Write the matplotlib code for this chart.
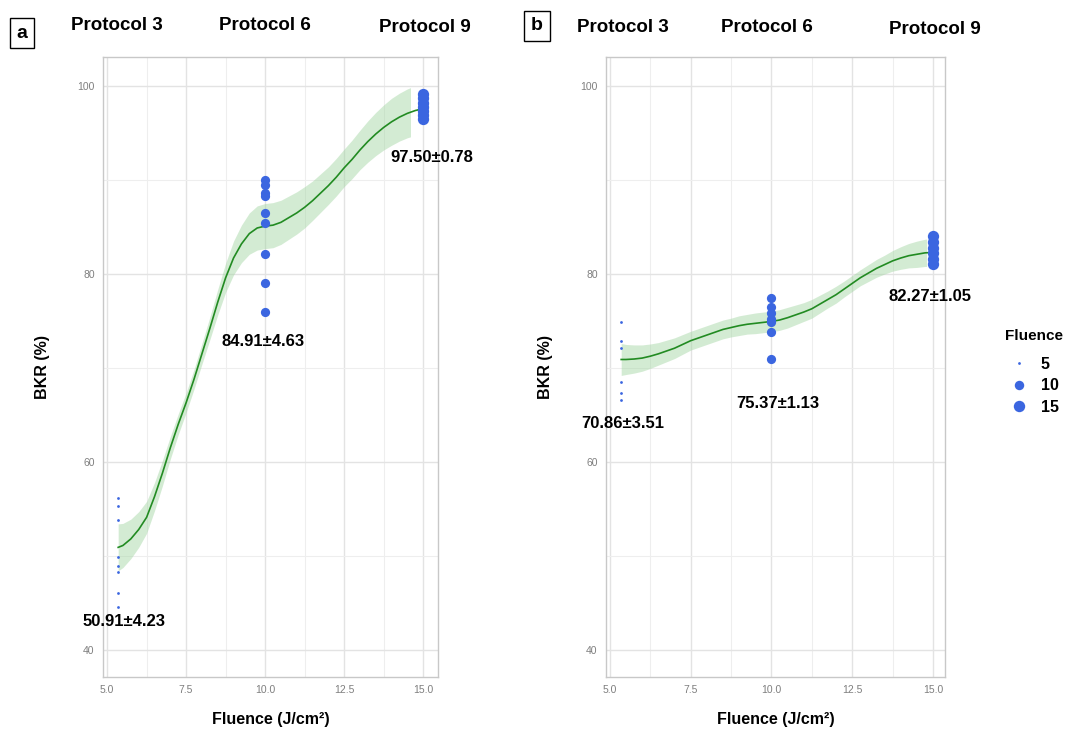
import numpy as np
import matplotlib.pyplot as plt
from matplotlib.lines import Line2D

plt.rcParams['font.family'] = ['Liberation Sans', 'DejaVu Sans']

# 数据
x_pos = [5.35, 10.0, 15.0]
fluence = [5, 10, 15]

# 面板 a 的点
a_f5 = [56.2, 55.3, 53.8, 49.9, 48.9, 48.3, 46.0, 44.5]
a_f10 = [90.0, 89.5, 88.6, 88.3, 86.5, 85.4, 82.1, 79.0, 76.0]
a_f15 = [99.2, 98.7, 98.2, 97.8, 97.3, 96.9, 96.5]

# 面板 b 的点
b_f5 = [74.9, 72.9, 72.1, 68.5, 67.3, 66.6]
b_f10 = [77.4, 76.5, 75.9, 75.2, 74.9, 73.8, 71.0]
b_f15 = [84.0, 83.4, 82.8, 82.2, 81.6, 81.1]

# 平滑曲线 (loess) 与置信带半宽
a_cx = [5.35, 5.5, 5.75, 6.0, 6.25, 6.5, 6.75, 7.0, 7.25, 7.5, 7.75, 8.0, 8.25, 8.5, 8.75,
        9.0, 9.25, 9.5, 9.75, 10.0, 10.25, 10.5, 10.75, 11.0, 11.25, 11.5, 11.75, 12.0,
        12.25, 12.5, 12.75, 13.0, 13.25, 13.5, 13.75, 14.0, 14.25, 14.5, 14.75, 15.0]
a_cy = [50.9, 51.1, 51.8, 52.8, 54.1, 56.3, 58.8, 61.5, 64.0, 66.3, 68.8, 71.5, 74.2, 77.0, 79.6,
        81.7, 83.2, 84.3, 84.9, 85.1, 85.2, 85.5, 86.0, 86.5, 87.1, 87.8, 88.6, 89.4,
        90.3, 91.3, 92.2, 93.2, 94.1, 94.9, 95.6, 96.2, 96.7, 97.1, 97.4, 97.6]
a_se = [2.5, 2.35, 2.1, 1.9, 1.7, 1.5, 1.35, 1.2, 1.1, 1.05, 1.05, 1.1, 1.2, 1.35, 1.55,
        1.8, 2.0, 2.2, 2.35, 2.4, 2.4, 2.35, 2.3, 2.25, 2.2, 2.1, 2.05, 2.0,
        2.0, 2.0, 2.05, 2.1, 2.2, 2.3, 2.4, 2.5, 2.55, 2.6, 2.65, 2.7]
a_band_end = 14.6

b_cx = a_cx
b_cy = [70.9, 70.9, 70.95, 71.05, 71.25, 71.5, 71.8, 72.1, 72.5, 72.9, 73.2, 73.5, 73.8, 74.1, 74.3,
        74.5, 74.65, 74.75, 74.85, 74.95, 75.1, 75.35, 75.65, 75.95, 76.3, 76.8, 77.3, 77.8,
        78.4, 79.0, 79.6, 80.1, 80.6, 81.0, 81.4, 81.7, 81.95, 82.1, 82.25, 82.3]
b_se = [1.7, 1.6, 1.5, 1.4, 1.3, 1.2, 1.15, 1.1, 1.05, 1.0, 1.0, 1.0, 1.0, 1.0, 1.0,
        1.05, 1.05, 1.1, 1.1, 1.1, 1.1, 1.1, 1.05, 1.0, 1.0, 0.95, 0.9, 0.9,
        0.85, 0.85, 0.85, 0.9, 0.95, 1.0, 1.1, 1.2, 1.3, 1.4, 1.45, 1.5]
b_band_end = 14.8

a_labels = ['50.91±4.23', '84.91±4.63', '97.50±0.78']
b_labels = ['70.86±3.51', '75.37±1.13', '82.27±1.05']

W, H = 1068, 730
fig = plt.figure(figsize=(W / 100, H / 100), dpi=100)

dot_color = '#3b66e0'
sizes = {5: 4, 10: 44, 15: 66}


def panel(rect, groups, cx, cy, se, band_end, xlim):
    ax = fig.add_axes(rect)
    cx = np.array(cx)
    cy = np.array(cy)
    se = np.array(se)
    m = cx <= band_end + 1e-9
    bx = np.append(cx[m], band_end)
    lo = np.append(cy[m] - se[m], np.interp(band_end, cx, cy - se))
    hi = np.append(cy[m] + se[m], np.interp(band_end, cx, cy + se))
    ax.fill_between(bx, lo, hi, color='#9fd49f', alpha=0.45, lw=0, zorder=2)
    ax.plot(cx, cy, color='#228b22', lw=1.2, zorder=3)
    for xp, f, vals in zip(x_pos, fluence, groups):
        ax.scatter([xp] * len(vals), vals, s=sizes[f], color=dot_color, lw=0, zorder=4)
    ax.set_xlim(*xlim)
    ax.set_ylim(37.1, 103.1)
    ax.set_xticks([5, 7.5, 10, 12.5, 15])
    ax.set_xticklabels(['5.0', '7.5', '10.0', '12.5', '15.0'])
    ax.set_yticks([40, 60, 80, 100])
    ax.set_xticks([6.25, 8.75, 11.25, 13.75], minor=True)
    ax.set_yticks([50, 70, 90], minor=True)
    ax.grid(which='major', color='#e3e3e3', lw=1.0, zorder=0)
    ax.grid(which='minor', color='#eeeeee', lw=0.8, zorder=0)
    ax.set_axisbelow(True)
    ax.tick_params(which='both', length=0, labelsize=7.5, colors='#7f7f7f', pad=6)
    for s in ax.spines.values():
        s.set_color('#c8c8c8')
        s.set_linewidth(1.0)
    ax.set_ylabel('BKR (%)', fontsize=11.5, fontweight='bold', labelpad=20)
    ax.set_xlabel('Fluence (J/cm²)', fontsize=11.5, fontweight='bold', labelpad=12)
    return ax


ax_a = panel([103 / W, 1 - 677 / H, 335 / W, 620 / H], [a_f5, a_f10, a_f15],
             a_cx, a_cy, a_se, a_band_end, (4.87, 15.47))
ax_b = panel([606 / W, 1 - 677 / H, 339 / W, 620 / H], [b_f5, b_f10, b_f15],
             b_cx, b_cy, b_se, b_band_end, (4.88, 15.37))


def ftext(px, py, s, **kw):
    fig.text(px / W, 1 - py / H, s, ha='center', va='center', fontweight='bold', **kw)


# 标注
for (px, py), s in zip([(124, 622), (263, 341), (432, 158)], a_labels):
    ftext(px, py, s, fontsize=12)
for (px, py), s in zip([(623, 424), (778, 403), (930, 297)], b_labels):
    ftext(px, py, s, fontsize=12)

# 顶部 Protocol
for px, py, s in [(117, 25, 'Protocol 3'), (265, 25, 'Protocol 6'), (425, 27, 'Protocol 9'),
                  (623, 27, 'Protocol 3'), (767, 27, 'Protocol 6'), (935, 29, 'Protocol 9')]:
    ftext(px, py, s, fontsize=13.5)

fig.text(22 / W, 1 - 33 / H, 'a', ha='center', va='center', fontsize=14, fontweight='bold',
         bbox=dict(boxstyle='square,pad=0.35', fc='white', ec='black', lw=1))
fig.text(537 / W, 1 - 26 / H, 'b', ha='center', va='center', fontsize=14, fontweight='bold',
         bbox=dict(boxstyle='square,pad=0.35', fc='white', ec='black', lw=1))

# 图例
handles = [Line2D([], [], ls='', marker='o', color=dot_color, markersize=ms, mec='none')
           for ms in [2.0, 6.8, 8.2]]
leg = fig.legend(handles, ['5', '10', '15'], title='Fluence', loc='center',
                 bbox_to_anchor=(1034 / W, 1 - 372 / H), frameon=False,
                 prop={'size': 11.5, 'weight': 'bold'}, handletextpad=0.8,
                 labelspacing=0.4, handlelength=1.2)
leg.get_title().set_fontweight('bold')
leg.get_title().set_fontsize(11)
leg._legend_box.sep = 10

fig.savefig('out.png', dpi=100)
